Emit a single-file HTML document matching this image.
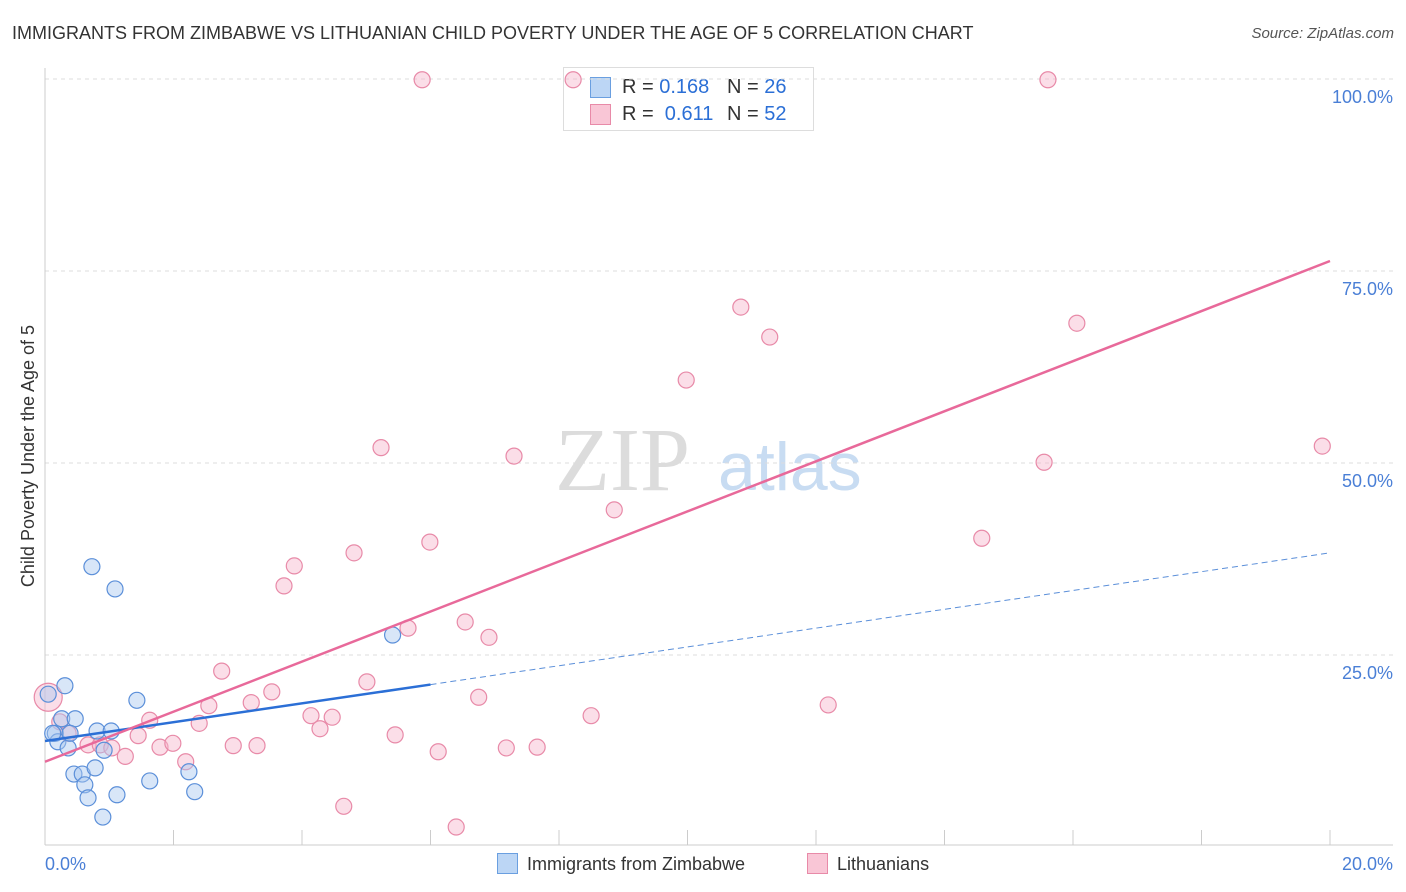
<!DOCTYPE html>
<html><head><meta charset="utf-8">
<style>
body{margin:0;background:#fff;font-family:"Liberation Sans",sans-serif;}
#wrap{position:relative;width:1406px;height:892px;overflow:hidden;}
.t{position:absolute;white-space:nowrap;}
</style></head>
<body>
<div id="wrap">
<div class="t" style="left:12px;top:23px;font-size:18px;color:#333;">IMMIGRANTS FROM ZIMBABWE VS LITHUANIAN CHILD POVERTY UNDER THE AGE OF 5 CORRELATION CHART</div>
<div class="t" style="right:12px;top:25px;font-size:15px;color:#555;font-style:italic;">Source: ZipAtlas.com</div>
<div class="t" style="left:563px;top:67px;width:249px;height:62px;border:1px solid #ddd;font-size:20px;">
 <div style="position:absolute;left:26px;top:8px;">
  <span style="position:absolute;left:0;top:1px;width:19px;height:19px;background:#bcd6f5;border:1px solid #6a9fe0;"></span>
  <span style="position:absolute;left:32px;top:0;color:#333;">R =&nbsp;<span style="color:#2b6fd6">0.168</span></span>
  <span style="position:absolute;left:137px;top:0;color:#333;">N =&nbsp;<span style="color:#2b6fd6">26</span></span>
 </div>
 <div style="position:absolute;left:26px;top:35px;">
  <span style="position:absolute;left:0;top:1px;width:19px;height:19px;background:#f9c6d6;border:1px solid #e88aa8;"></span>
  <span style="position:absolute;left:32px;top:0;color:#333;">R =&nbsp;&nbsp;<span style="color:#2b6fd6">0.611</span></span>
  <span style="position:absolute;left:137px;top:0;color:#333;">N =&nbsp;<span style="color:#2b6fd6">52</span></span>
 </div>
</div>
<svg id="svg" width="1406" height="892" style="position:absolute;left:0;top:0"></svg>
</div>
<script>
const blueX=[0.05,0.16,0.20,0.26,0.31,0.36,0.47,0.45,0.58,0.62,0.67,0.78,0.81,0.73,0.92,1.03,1.09,1.12,0.90,1.43,1.63,2.24,2.33,5.41,0.12,0.39];
const blueY=[19.9,14.8,13.7,16.7,21.0,12.9,16.7,9.5,9.5,8.1,6.4,10.3,15.1,36.5,12.6,15.1,33.6,6.8,3.9,19.1,8.6,9.8,7.2,27.6,14.8,14.8];
const pinkX=[0.05,0.23,0.36,0.67,0.86,1.04,1.25,1.45,1.63,1.79,1.99,2.19,2.40,2.55,2.75,2.93,3.21,3.30,3.53,3.72,3.88,4.14,4.28,4.47,4.65,4.81,5.01,5.23,5.45,5.65,5.87,5.99,6.12,6.40,6.54,6.75,6.91,7.18,7.30,7.66,8.22,8.50,8.86,9.98,10.83,11.28,12.19,14.58,15.55,15.61,16.06,19.88];
const pinkY=[19.5,16.3,14.8,13.3,13.3,12.9,11.8,14.5,16.5,13.0,13.5,11.1,16.1,18.4,22.9,13.2,18.8,13.2,20.2,34.0,36.6,17.1,15.4,16.9,5.3,38.3,21.5,52.0,14.6,28.5,99.9,39.7,12.4,2.6,29.3,19.5,27.3,12.9,50.9,13.0,99.9,17.1,43.9,60.8,70.3,66.4,18.5,40.2,50.1,99.9,68.2,52.2];
const blueTrend=[13.8,38.3];
const blueSolidEnd=6.0;
const pinkTrend=[11.1,76.3];
const yTicks=[25,50,75,100];
const yTickLabels=["25.0%","50.0%","75.0%","100.0%"];
const xTickLabels=["0.0%","20.0%"];

const X0=45,X1=1330,Y0=847,YS=7.68;
const sx=v=>X0+(v/20)*(X1-X0);
const sy=v=>Y0-v*YS;
const svg=document.getElementById('svg');
const NS='http://www.w3.org/2000/svg';
function mk(tag,attrs,parent){const e=document.createElementNS(NS,tag);for(const k in attrs)e.setAttribute(k,attrs[k]);(parent||svg).appendChild(e);return e;}

let wm=mk('text',{x:555,y:490,'font-size':90,fill:'#dcdcdc','font-family':'Liberation Serif,serif'});wm.textContent='ZIP';


let wm2=mk('text',{x:718,y:490,'font-size':68,fill:'#c8dcf2','font-family':'Liberation Sans,sans-serif'});wm2.textContent='atlas';



yTicks.forEach((v,i)=>{
 const g=mk('line',{x1:X0,x2:1393,y1:sy(v),y2:sy(v),stroke:'#ddd','stroke-dasharray':'4,4'});
 
 
 const t=mk('text',{x:1393,y:sy(v)+24,'text-anchor':'end','font-size':18,fill:'#4a7fd6','font-family':'Liberation Sans,sans-serif'});
 t.textContent=yTickLabels[i];
 
 
});
let ax=mk('line',{x1:X0,x2:X0,y1:68,y2:845,stroke:'#ccc'});


let bx=mk('line',{x1:X0,x2:1393,y1:845,y2:845,stroke:'#ccc'});


for(let i=0;i<=10;i++){
 const tk=mk('line',{x1:sx(i*2),x2:sx(i*2),y1:830,y2:845,stroke:'#ccc'});
 
 
}
let xl0=mk('text',{x:45,y:870,'font-size':18,fill:'#4a7fd6'});xl0.textContent=xTickLabels[0];


let xl1=mk('text',{x:1393,y:870,'text-anchor':'end','font-size':18,fill:'#4a7fd6'});xl1.textContent=xTickLabels[1];


let yt=mk('text',{x:0,y:0,'font-size':18,fill:'#333','text-anchor':'middle',transform:'translate(34,456) rotate(-90)'});yt.textContent='Child Poverty Under the Age of 5';



function pts(xs,ys,fill,stroke,name){
 xs.forEach((x,i)=>{
  const c=mk('circle',{cx:sx(x),cy:sy(ys[i]),r:(name==='pink-point'&&i===0)?14:8,fill:fill,'fill-opacity':0.45,stroke:stroke,'stroke-width':1.2});
  
  
 });
}
pts(pinkX,pinkY,'#f7b6cb','#e88aa8','pink-point');
pts(blueX,blueY,'#a8c8f0','#5b8fd9','blue-point');

const bAt=x=>blueTrend[0]+(blueTrend[1]-blueTrend[0])*x/20;
let bd=mk('line',{x1:sx(blueSolidEnd),y1:sy(bAt(blueSolidEnd)),x2:sx(20),y2:sy(bAt(20)),stroke:'#5b8fd9','stroke-width':1,'stroke-dasharray':'6,4'});


let bs=mk('line',{x1:sx(0),y1:sy(bAt(0)),x2:sx(blueSolidEnd),y2:sy(bAt(blueSolidEnd)),stroke:'#2b6fd6','stroke-width':2.5});


let pl=mk('line',{x1:sx(0),y1:sy(pinkTrend[0]),x2:sx(20),y2:sy(pinkTrend[1]),stroke:'#e8699a','stroke-width':2.5});


</script>

<div class="t" style="left:497px;top:853px;font-size:18px;color:#333;">
 <span style="display:inline-block;width:19px;height:19px;background:#bcd6f5;border:1px solid #6a9fe0;vertical-align:-4px;margin-right:9px;"></span>Immigrants from Zimbabwe</div>
<div class="t" style="left:807px;top:853px;font-size:18px;color:#333;">
 <span style="display:inline-block;width:19px;height:19px;background:#f9c6d6;border:1px solid #e88aa8;vertical-align:-4px;margin-right:9px;"></span>Lithuanians</div>
</body></html>
